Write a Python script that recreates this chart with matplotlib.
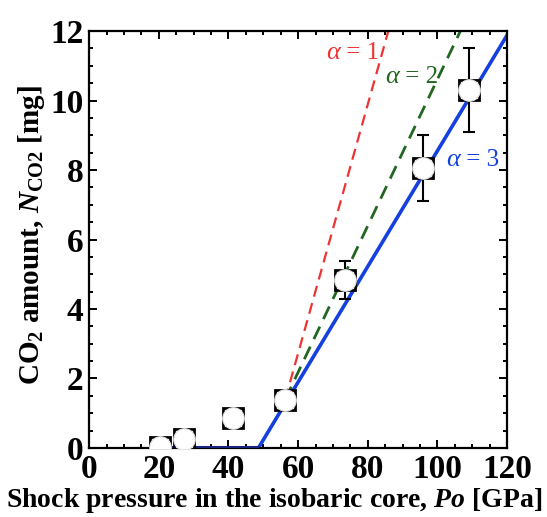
import matplotlib.pyplot as plt
import numpy as np

plt.rcParams['font.family'] = 'Liberation Serif'
plt.rcParams['font.weight'] = 'bold'
plt.rcParams['mathtext.fontset'] = 'custom'
plt.rcParams['mathtext.rm'] = 'Liberation Serif:bold'
plt.rcParams['mathtext.it'] = 'Liberation Serif:italic:bold'
plt.rcParams['mathtext.bf'] = 'Liberation Serif:bold'
plt.rcParams['mathtext.sf'] = 'Liberation Serif'

# measured points
pressure = [20.4, 27.3, 41.4, 56.3, 73.6, 96.0, 109.0]
co2 = [0.03, 0.26, 0.86, 1.38, 4.83, 8.05, 10.3]
co2_err = [0, 0, 0, 0, 0.55, 0.95, 1.22]

# model curves (alpha = 1, 2, 3)
a1_x = [56.3, 85.9]
a1_y = [1.4, 12.0]
a2_x = [56.3, 106.6]
a2_y = [1.4, 12.0]
a3_x = [20.0, 48.6, 120.0]
a3_y = [0.0, 0.0, 11.88]

labels = ['1', '2', '3']
label_x = [72.1, 89.1, 106.6]
label_y = [11.37, 10.68, 8.3]
colors = ['#ee3333', '#226622', '#1540e0']

fig = plt.figure(figsize=(5.47, 5.17), dpi=100)
ax = fig.add_axes([0.163, 0.1335, 0.764, 0.8065])

ax.plot(a1_x, a1_y, '--', color=colors[0], lw=1.6, dashes=(5, 3))
ax.plot(a2_x, a2_y, '--', color=colors[1], lw=2.0, dashes=(5, 3))
ax.plot(a3_x[:2], np.array(a3_y[:2]) + 0.03, '-', color='#1a237e', lw=1.5, zorder=3)
ax.plot(a3_x[1:], a3_y[1:], '-', color=colors[2], lw=2.6)

ax.errorbar(pressure, co2, yerr=[e if e > 0 else np.nan for e in co2_err],
            fmt='none', ecolor='black', elinewidth=1.5, capsize=4, capthick=1.5, zorder=3)
ax.plot(pressure, co2, 's', ms=15, mfc='white', mec='black', mew=2.0, zorder=4)
ax.plot(pressure, co2, 'o', ms=15.5, mfc='white', mec='#e0e0e0', mew=0.8, zorder=5)

for lab, lx, ly, c in zip(labels, label_x, label_y, colors):
    ax.text(lx, ly, '\u03b1', color=c, fontsize=19, fontweight='normal',
            fontstyle='italic', ha='right', va='center')
    ax.text(lx, ly, ' = ' + lab, color=c, fontsize=18, fontweight='normal',
            ha='left', va='center')

ax.set_xlim(0, 120)
ax.set_ylim(0, 12)
ax.set_xticks(np.arange(0, 121, 20))
ax.set_yticks(np.arange(0, 13, 2))
ax.set_xticks(np.arange(0, 121, 5), minor=True)
ax.set_yticks(np.arange(0, 12.1, 0.5), minor=True)
ax.tick_params(which='both', direction='in', top=True, right=True, width=1.4)
ax.tick_params(which='major', length=6, labelsize=24, pad=4)
ax.tick_params(which='minor', length=3)
for s in ax.spines.values():
    s.set_linewidth(1.6)

ax.set_xlabel(r'Shock pressure in the isobaric core, $Po$ [GPa]', fontsize=20,
              fontweight='bold')
ax.xaxis.set_label_coords(0.443, -0.09)
ax.set_ylabel(r'CO$_2$ amount, $N_{\mathsf{CO2}}$ [mg]', fontsize=21,
              fontweight='bold')
ax.yaxis.set_label_coords(-0.10, 0.51)

fig.savefig('out.png', dpi=100)
